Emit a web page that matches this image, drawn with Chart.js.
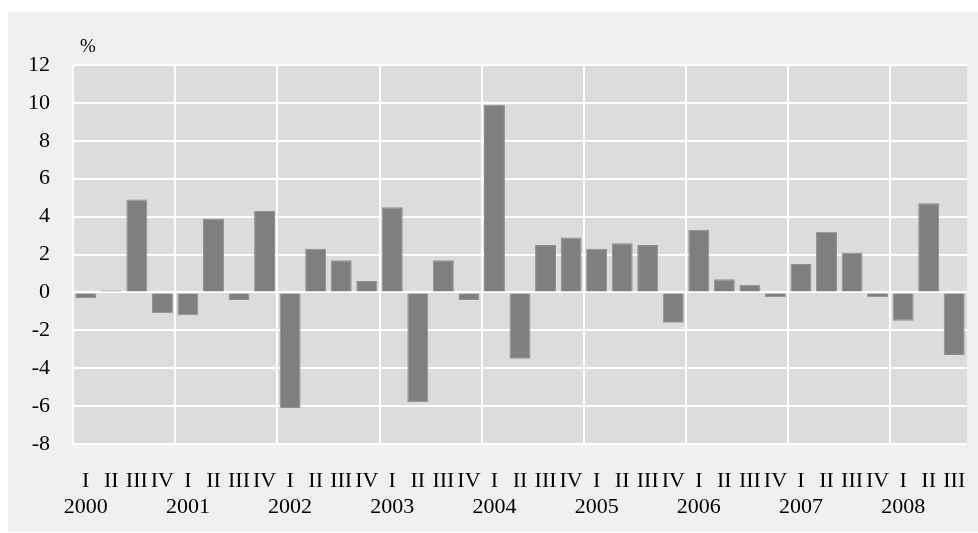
<!DOCTYPE html>
<html>
<head>
<meta charset="utf-8">
<script src="https://cdn.jsdelivr.net/npm/chart.js@4"></script>
<style>
  body { margin: 0; background: #fff; }
  #box { position: absolute; left: 8px; top: 12px; width: 970px; height: 520px; background: #f0f0f0; }
</style>
</head>
<body>
<div id="box"><canvas id="chart"></canvas></div>
<script>
// Datos trimestrales, %
const years = ["2000", "2001", "2002", "2003", "2004", "2005", "2006", "2007", "2008"];
const quarters = ["I", "II", "III", "IV"];
const values = [
  -0.3, 0.1, 4.9, -1.1,
  -1.2, 3.9, -0.4, 4.3,
  -6.1, 2.3, 1.7, 0.6,
  4.5, -5.8, 1.7, -0.4,
  9.9, -3.5, 2.5, 2.9,
  2.3, 2.6, 2.5, -1.6,
  3.3, 0.7, 0.4, -0.25,
  1.5, 3.2, 2.1, -0.25,
  -1.5, 4.7, -3.3,
];
const yTicks = [-8, -6, -4, -2, 0, 2, 4, 6, 8, 10, 12];

// Etiquetas: trimestre + año debajo del I
const labels = values.map((v, i) => {
  const q = quarters[i % 4];
  return i % 4 === 0 ? [q, years[Math.floor(i / 4)]] : q;
});

const font = { family: "'Liberation Serif', 'Times New Roman', serif", size: 22, lineHeight: 1.15 };

// Fondo gris del área del gráfico y el símbolo %
const plotBg = {
  id: "plotBg",
  beforeDraw(chart) {
    const { ctx, chartArea: a } = chart;
    ctx.save();
    ctx.fillStyle = "#dcdcdc";
    ctx.fillRect(a.left, a.top, a.right - a.left, a.bottom - a.top);
    ctx.restore();
  },
  afterDraw(chart) {
    const { ctx, chartArea: a } = chart;
    ctx.save();
    ctx.fillStyle = "#000";
    ctx.font = "19px 'Liberation Serif', serif";
    ctx.textBaseline = "middle";
    ctx.fillText("%", a.left + 7, a.top - 18);
    ctx.restore();
  },
};

new Chart(document.getElementById("chart"), {
  type: "bar",
  data: {
    labels: labels,
    datasets: [
      {
        data: values,
        backgroundColor: "#7f7f7f",
        borderColor: "#8f8f8f",
        borderWidth: 1,
        barPercentage: 0.82,
        categoryPercentage: 1,
      },
    ],
  },
  options: {
    responsive: true,
    maintainAspectRatio: false,
    animation: false,
    layout: { padding: { top: 53, right: 11, left: 0, bottom: 0 } },
    plugins: { legend: { display: false }, tooltip: { enabled: false } },
    scales: {
      x: {
        afterFit: (s) => {
          s.height = 88;
          s.paddingLeft = 0;
          s.paddingRight = 0;
        },
        grid: {
          color: (c) => (c.index % 4 === 0 ? "#ffffff" : "rgba(0,0,0,0)"),
          lineWidth: 2,
          drawTicks: false,
        },
        border: { display: false },
        ticks: { autoSkip: false, maxRotation: 0, color: "#000", font: font, padding: 25 },
      },
      y: {
        min: -8,
        max: 12,
        afterFit: (s) => { s.width = 65; },
        afterBuildTicks: (s) => { s.ticks = yTicks.map((v) => ({ value: v })); },
        grid: { color: "#ffffff", lineWidth: 2, drawTicks: false },
        border: { display: false },
        ticks: { color: "#000", font: font, padding: 23 },
      },
    },
  },
  plugins: [plotBg],
});
</script>
</body>
</html>
